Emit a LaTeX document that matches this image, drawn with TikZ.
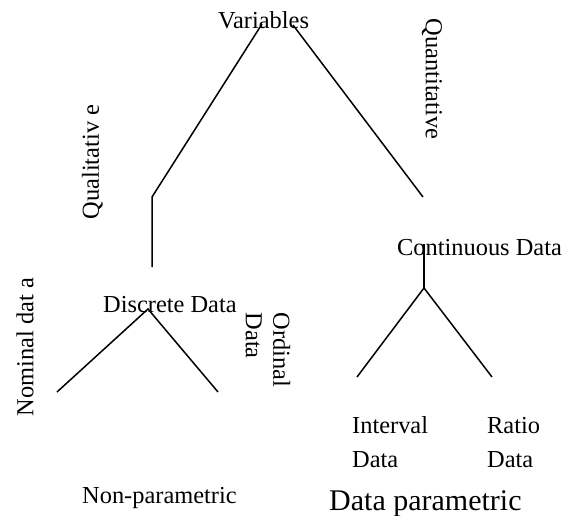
\documentclass[tikz,border=0pt]{standalone}
\usepackage{fontspec}
\setmainfont{Liberation Serif}
\begin{document}
\begin{tikzpicture}[x=1pt,y=-1pt,
  lbl/.style={inner sep=0pt,font=\fontsize{24.4}{27.6}\selectfont},
  big/.style={inner sep=0pt,font=\fontsize{30}{34}\selectfont},
  edge/.style={draw=black,line width=1.5pt}]
\useasboundingbox (0,0) rectangle (568,516);
% labels
\node[lbl,anchor=base west] (var) at (218,29) {Variables};
\node[lbl,rotate=90] (qual) at (92.5,162) {Qualitativ e};
\node[lbl,rotate=-90] (quant) at (432,79) {Quantitative};
\node[lbl,anchor=base west] (disc) at (103,312) {Discrete Data};
\node[lbl,anchor=base west] (cont) at (397,255) {Continuous Data};
\node[lbl,rotate=90] (nom) at (25,347) {Nominal dat a};
\node[lbl,rotate=-90,align=left] (ord) at (268,350) {Ordinal\\Data};
\node[lbl,anchor=base west] (int1) at (352,433) {Interval};
\node[lbl,anchor=base west] (int2) at (352,467) {Data};
\node[lbl,anchor=base west] (rat1) at (487,433) {Ratio};
\node[lbl,anchor=base west] (rat2) at (487,467) {Data};
\node[lbl,anchor=base west] (np) at (82,503) {Non-parametric};
\node[big,anchor=base west] (dp) at (329,510) {Data parametric};
% connector points
\coordinate (vl) at (262,24);
\coordinate (vr) at (293,25);
\coordinate (qb) at (152,197);
\coordinate (qe) at (152,267);
\coordinate (nr) at (423,197);
\coordinate (da) at (148,309);
\coordinate (dl) at (57,392);
\coordinate (dr) at (218,392);
\coordinate (ct) at (424,244);
\coordinate (cm) at (424,288);
\coordinate (cl) at (357,377);
\coordinate (cr) at (492,377);
% connectors
\draw[edge] (vl) -- (qb) -- (qe);
\draw[edge] (vr) -- (nr);
\draw[edge] (dl) -- (da) -- (dr);
\draw[edge] (ct) -- (cm);
\draw[edge] (cl) -- (cm) -- (cr);
\end{tikzpicture}
\end{document}
